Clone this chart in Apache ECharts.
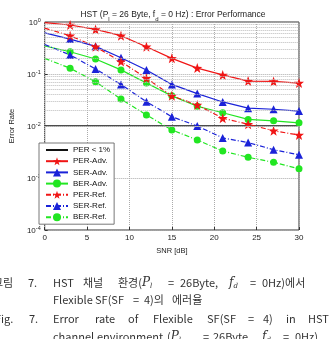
<!DOCTYPE html>
<html>
<head>
<meta charset="UTF-8">
<title>HST error rate</title>
<script src="https://cdn.jsdelivr.net/npm/echarts@6/dist/echarts.min.js"></script>
<style>
  html, body { margin: 0; padding: 0; background: #fff; }
  #main { width: 330px; height: 339px; }
</style>
</head>
<body>
<div id="main"></div>
<script>
// SNR points [dB]
var snr = [0, 3, 6, 9, 12, 15, 18, 21, 24, 27, 30];
// error rates
var perAdv = [0.97, 0.875, 0.72, 0.545, 0.335, 0.20, 0.13, 0.096, 0.073, 0.072, 0.067];
var serAdv = [0.62, 0.47, 0.34, 0.206, 0.119, 0.063, 0.042, 0.029, 0.022, 0.021, 0.0194];
var berAdv = [0.345, 0.268, 0.194, 0.12, 0.067, 0.038, 0.024, 0.018, 0.0134, 0.0126, 0.0115];
var perRef = [0.76, 0.545, 0.335, 0.173, 0.083, 0.038, 0.0254, 0.0141, 0.0108, 0.0081, 0.0067];
var serRef = [0.37, 0.232, 0.125, 0.063, 0.0293, 0.0151, 0.010, 0.0059, 0.0048, 0.0035, 0.0028];
var berRef = [0.2, 0.129, 0.071, 0.033, 0.0163, 0.0084, 0.0054, 0.0033, 0.0025, 0.0020, 0.0015];
var perLimit = 0.01;   // PER < 1%
var legendNames = ['PER < 1%', 'PER-Adv.', 'SER-Adv.', 'BER-Adv.', 'PER-Ref.', 'SER-Ref.', 'BER-Ref.'];

// caption under the figure (word, left x)
var cap1 = [['그림', -7], ['7.', 28], ['HST', 53], ['채널', 83], ['환경({m|P}{s|l}', 118], ['=', 168],
            ['26Byte,', 180], ['{m|f}{s|d}', 229], ['=', 250], ['0Hz)에서', 262]];
var cap2 = [['Flexible', 53], ['SF(SF', 95], ['=', 133], ['4)의', 144], ['에러율', 172]];
var cap3 = [['Fig.', -5], ['7.', 29], ['Error', 53], ['rate', 95], ['of', 128], ['Flexible', 153],
            ['SF(SF', 207], ['=', 248], ['4)', 263], ['in', 286], ['HST', 308]];
var cap4 = [['channel', 53], ['environment', 97], ['({m|P}{s|l}', 167], ['=', 203], ['26Byte,', 213],
            ['{m|f}{s|d}', 262], ['=', 283], ['0Hz)', 295]];

var STAR = 'path://M0,-10L2.35,-3.24L9.51,-3.09L3.8,1.24L5.88,8.09L0,4L-5.88,8.09L-3.8,1.24L-9.51,-3.09L-2.35,-3.24Z';
var RED = '#f01515', BLUE = '#1a22d8', GREEN = '#22e622';
var FONT = 'Liberation Sans';

function mkLine(name, vals, color, symbol, size, dashed) {
    return {
        name: name,
        type: 'line',
        data: snr.map(function (x, i) {
            // no marker drawn at 0 dB in the original
            return i === 0 ? { value: [x, vals[i]], symbol: 'none' } : [x, vals[i]];
        }),
        symbol: symbol,
        symbolSize: size,
        showAllSymbol: true,
        itemStyle: { color: color },
        lineStyle: { color: color, width: 1.2, type: dashed ? [5, 2, 1, 2] : 'solid' },
        z: 3
    };
}

var minorY = [];
for (var k = -4; k < 0; k++) {
    for (var m = 2; m <= 9; m++) minorY.push({ yAxis: m * Math.pow(10, k) });
}

function capText(tokens, y) {
    return tokens.map(function (t) {
        return {
            type: 'text', x: t[1], y: y, silent: true,
            style: {
                text: t[0], fill: '#333', fontSize: 11, fontFamily: 'Noto Sans CJK KR',
                verticalAlign: 'middle', lineHeight: 14,
                rich: {
                    m: { fontFamily: 'DejaVu Serif', fontStyle: 'italic', fontSize: 12, fill: '#333', lineHeight: 14 },
                    s: { fontFamily: 'DejaVu Serif', fontStyle: 'italic', fontSize: 7, fill: '#333', verticalAlign: 'bottom', lineHeight: 7 }
                }
            }
        };
    });
}

var myChart = echarts.init(document.getElementById('main'));
var option = {
    animation: false,
    backgroundColor: '#fff',
    title: {
        text: 'HST (P{s|l} = 26 Byte, f{s|d} = 0 Hz) : Error Performance',
        left: 168, top: 3, textAlign: 'center',
        textStyle: {
            fontSize: 8.5, fontWeight: 'normal', fontFamily: FONT, color: '#222',
            rich: { s: { fontSize: 6, fontFamily: FONT, color: '#222', verticalAlign: 'bottom', lineHeight: 14 } }
        }
    },
    grid: { left: 37, right: 31, top: 22, bottom: 109, show: true, borderColor: '#333', borderWidth: 1, backgroundColor: '#fff' },
    legend: {
        orient: 'vertical', left: 39, top: 143,
        itemWidth: 22, itemHeight: 10, itemGap: 3.2,
        padding: [3, 4, 3, 6],
        backgroundColor: '#fff', borderColor: '#555', borderWidth: 0.8,
        textStyle: { fontSize: 8, fontFamily: FONT, color: '#111' },
        data: legendNames
    },
    xAxis: {
        type: 'value', min: 0, max: 30, interval: 5,
        name: 'SNR [dB]', nameLocation: 'middle', nameGap: 15,
        nameTextStyle: { fontSize: 7.5, fontFamily: FONT, color: '#222' },
        axisLine: { show: false },
        axisTick: { inside: true, length: 3, lineStyle: { color: '#333' } },
        axisLabel: { fontSize: 8, fontFamily: FONT, color: '#222', margin: 4 },
        splitLine: { lineStyle: { type: 'dotted', color: '#aaa', width: 1 } }
    },
    yAxis: {
        type: 'log', logBase: 10, min: 1e-4, max: 1,
        name: 'Error Rate', nameLocation: 'middle', nameGap: 23, nameRotate: 90,
        nameTextStyle: { fontSize: 7.5, fontFamily: FONT, color: '#222' },
        axisLine: { show: false },
        axisTick: { inside: true, length: 3, lineStyle: { color: '#333' } },
        axisLabel: {
            margin: 4, fontFamily: FONT, color: '#222',
            formatter: function (v) {
                return '{b|10}{e|' + Math.round(Math.log10(v)) + '}';
            },
            rich: {
                b: { fontSize: 8, fontFamily: FONT, color: '#222', lineHeight: 10, verticalAlign: 'bottom' },
                e: { fontSize: 5.5, fontFamily: FONT, color: '#222', lineHeight: 5, verticalAlign: 'top' }
            }
        },
        splitLine: { lineStyle: { type: 'dotted', color: '#aaa', width: 1 } }
    },
    series: [
        {
            name: 'PER < 1%', type: 'line', symbol: 'none',
            data: [[0, perLimit], [30, perLimit]],
            itemStyle: { color: 'rgba(0,0,0,0)' },
            lineStyle: { color: '#111', width: 1.6 }, z: 2
        },
        mkLine('PER-Adv.', perAdv, RED, STAR, 10, false),
        mkLine('SER-Adv.', serAdv, BLUE, 'triangle', 8, false),
        mkLine('BER-Adv.', berAdv, GREEN, 'circle', 7, false),
        mkLine('PER-Ref.', perRef, RED, STAR, 10, true),
        mkLine('SER-Ref.', serRef, BLUE, 'triangle', 8, true),
        mkLine('BER-Ref.', berRef, GREEN, 'circle', 7, true),
        {
            name: 'minor', type: 'line', data: [], z: 1,
            markLine: {
                silent: true, symbol: ['none', 'none'], label: { show: false },
                lineStyle: { type: 'dotted', color: '#bbb', width: 1 },
                data: minorY
            }
        }
    ],
    graphic: [].concat(capText(cap1, 283), capText(cap2, 300), capText(cap3, 319), capText(cap4, 337))
};
myChart.setOption(option);
</script>
</body>
</html>
